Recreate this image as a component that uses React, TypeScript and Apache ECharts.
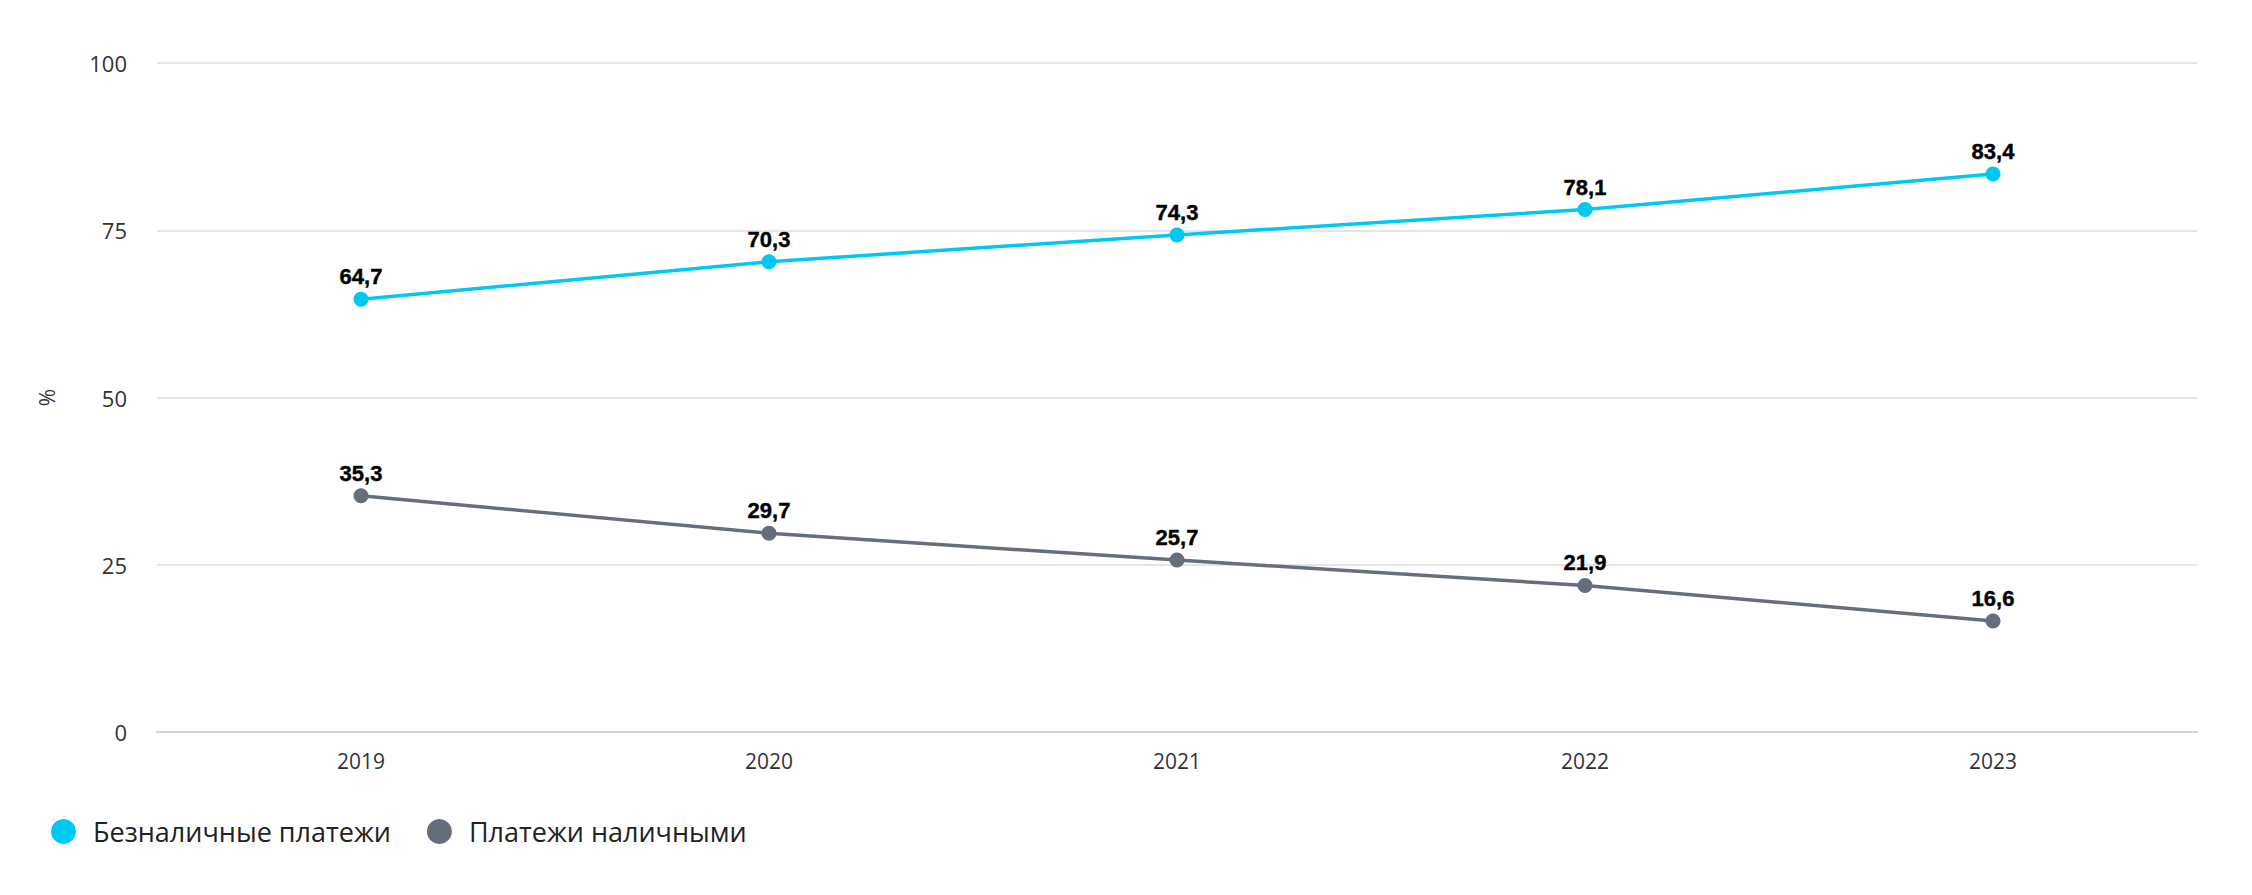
import React, { useEffect, useRef } from "react";
import * as echarts from "echarts";

const categories = ["2019", "2020", "2021", "2022", "2023"];
const cashlessValues = [64.7, 70.3, 74.3, 78.1, 83.4];
const cashValues = [35.3, 29.7, 25.7, 21.9, 16.6];
const seriesNames = ["Безналичные платежи", "Платежи наличными"];
const yTicks = { min: 0, max: 100, interval: 25 };

const CYAN = "#00c8f0";
const GRAY = "#676e7b";

export default function App() {
  const ref = useRef<HTMLDivElement>(null);
  useEffect(() => {
    document.body.style.margin = "0";
    const chart = echarts.init(ref.current!, undefined, { renderer: "svg" });
    const label = {
      show: true,
      position: "top" as const,
      distance: 4,
      color: "#000",
      fontWeight: "bold" as const,
      fontSize: 22,
      fontFamily: "Liberation Sans, Arial, sans-serif",
      textBorderColor: "#000",
      textBorderWidth: 0.4,
      formatter: (p: any) => String(p.value).replace(".", ","),
    };
    chart.setOption({
      animation: false,
      grid: { left: 157, right: 55, top: 63, bottom: 163, containLabel: false },
      legend: {
        left: 46,
        top: 813,
        icon: "circle",
        itemWidth: 25,
        itemHeight: 25,
        itemGap: 36,
        textStyle: {
          fontSize: 27,
          color: "#222",
          fontFamily: "Open Sans, Noto Sans, sans-serif",
          padding: [0, 0, 0, 12],
        },
        data: seriesNames,
      },
      xAxis: {
        type: "category",
        data: categories,
        boundaryGap: true,
        axisLine: { lineStyle: { color: "#ccd4e6", width: 2 } },
        axisTick: { show: false },
        axisLabel: {
          color: "#333",
          fontSize: 21,
          margin: 18,
          fontFamily: "Open Sans, Noto Sans, sans-serif",
        },
        splitLine: { show: false },
      },
      yAxis: {
        type: "value",
        min: yTicks.min,
        max: yTicks.max,
        interval: yTicks.interval,
        name: "%",
        nameLocation: "middle",
        nameGap: 100,
        nameTextStyle: {
          fontSize: 21,
          color: "#333",
          fontFamily: "Open Sans, Noto Sans, sans-serif",
        },
        axisLine: { show: false },
        axisTick: { show: false },
        axisLabel: {
          color: "#333",
          fontSize: 22,
          margin: 30,
          fontFamily: "Open Sans, Noto Sans, sans-serif",
        },
        splitLine: { lineStyle: { color: "#e5e5e5", width: 2 } },
      },
      series: [
        {
          name: seriesNames[0],
          type: "line",
          data: cashlessValues,
          symbol: "circle",
          symbolSize: 15,
          itemStyle: { color: CYAN },
          lineStyle: { color: CYAN, width: 3.5 },
          label,
        },
        {
          name: seriesNames[1],
          type: "line",
          data: cashValues,
          symbol: "circle",
          symbolSize: 15,
          itemStyle: { color: GRAY },
          lineStyle: { color: GRAY, width: 3.5 },
          label,
        },
      ],
    });
    return () => chart.dispose();
  }, []);
  return <div ref={ref} style={{ width: 2252, height: 895 }} />;
}
